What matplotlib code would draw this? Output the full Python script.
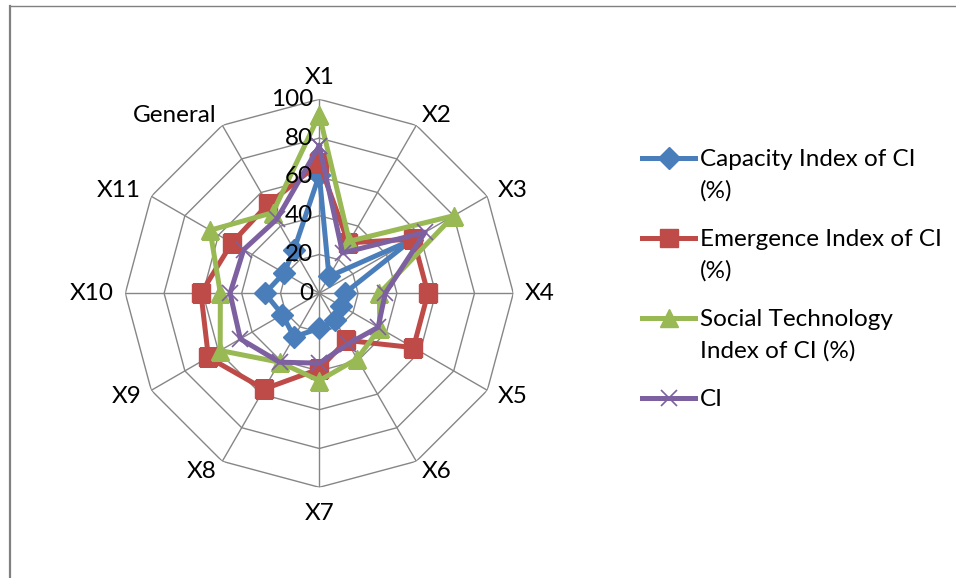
import numpy as np
import matplotlib.pyplot as plt
from matplotlib.lines import Line2D

plt.rcParams['font.family'] = ['Lato', 'DejaVu Sans']

categories = ['X1', 'X2', 'X3', 'X4', 'X5', 'X6', 'X7', 'X8', 'X9', 'X10', 'X11', 'General']
capacity = [61, 10, 55, 13, 13, 16, 18, 26, 22, 28, 21, 26]
emergence = [67, 30, 56, 56, 56, 28, 39, 57, 66, 61, 52, 53]
social_tech = [92, 31, 80, 31, 36, 39, 45, 41, 59, 51, 65, 48]
ci = [76, 24, 63, 34, 35, 30, 36, 41, 47, 46, 45, 44]
r_ticks = [0, 20, 40, 60, 80, 100]

series = [
    ('Capacity Index of CI\n(%)', capacity, '#4A7EBB', 'D', 11),
    ('Emergence Index of CI\n(%)', emergence, '#BE4B48', 's', 13),
    ('Social Technology\nIndex of CI (%)', social_tech, '#98B954', '^', 13),
    ('CI', ci, '#7D60A0', 'x', 12),
]

W, H = 956, 578
FS = 17.5
fig = plt.figure(figsize=(W / 100, H / 100), dpi=100)

# chart-area border (left + top, like the Excel frame)
fig.add_artist(Line2D([9.5 / W, 9.5 / W], [0, 1 - 6 / H], color='#808080', lw=1.6))
fig.add_artist(Line2D([9.5 / W, 1], [1 - 6 / H, 1 - 6 / H], color='#808080', lw=1.0))

cx, cy, R = 319.3, 293.3, 194.0
ax = fig.add_axes([(cx - R) / W, (H - cy - R) / H, 2 * R / W, 2 * R / H], projection='polar')
ax.set_theta_zero_location('N')
ax.set_theta_direction(-1)
ax.set_ylim(0, 100)
ax.grid(False)
ax.set_xticks([])
ax.set_yticks([])
ax.spines['polar'].set_visible(False)
ax.patch.set_alpha(0)

n = len(categories)
theta = np.arange(n) * 2 * np.pi / n
theta_closed = np.append(theta, theta[0])

# polygon grid and spokes
grid_col = '#868686'
for r in r_ticks[1:]:
    ax.plot(theta_closed, [r] * (n + 1), color=grid_col, lw=1.0, zorder=1)
for t in theta:
    ax.plot([t, t], [0, 100], color=grid_col, lw=1.0, zorder=1)

# radial tick labels left of the X1 spoke
for r in r_ticks:
    x = cx - 6
    y = cy - r * R / 100
    fig.text(x / W, 1 - y / H, str(r), ha='right', va='center', fontsize=FS)

# category labels
for t, lab in zip(theta, categories):
    s, c = np.sin(t), np.cos(t)
    ha = 'left' if s > 0.1 else ('right' if s < -0.1 else 'center')
    va = 'center'
    rr = 106
    if c > 0.9:
        va = 'bottom'
    elif c < -0.9:
        va = 'top'
        rr = 108
    ax.text(t, rr, lab, ha=ha, va=va, fontsize=FS, clip_on=False)

for label, vals, col, mk, ms in series:
    v = np.append(vals, vals[0])
    if mk == 'x':
        ax.plot(theta_closed, v, color=col, lw=3.6, marker=mk, ms=ms, mew=1.2, zorder=3)
    else:
        ax.plot(theta_closed, v, color=col, lw=3.6, marker=mk, ms=ms, zorder=3)

# legend drawn by hand: handle aligned with the first text line
leg_y = [158, 238, 318, 398]
for (label, vals, col, mk, ms), y in zip(series, leg_y):
    yf = 1 - y / H
    fig.add_artist(Line2D([642 / W, 695 / W], [yf, yf], color=col, lw=3.6))
    if mk == 'x':
        fig.add_artist(Line2D([668.5 / W], [yf], color=col, marker=mk, ms=ms, mew=1.2))
    else:
        fig.add_artist(Line2D([668.5 / W], [yf], color=col, marker=mk, ms=ms))
    fig.text(700 / W, 1 - (y - 9) / H, label, ha='left', va='top', fontsize=FS,
             linespacing=1.55)

fig.savefig('out.png', dpi=100)
